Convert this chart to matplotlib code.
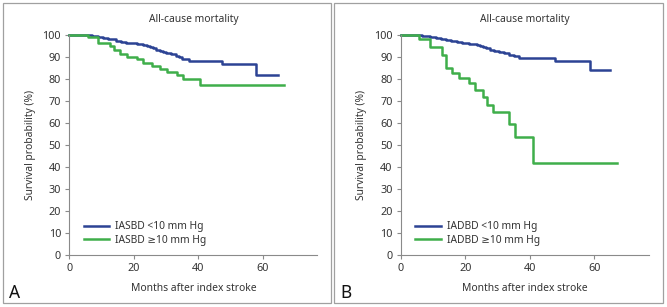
import matplotlib.pyplot as plt
from matplotlib.patches import Rectangle

plt.rcParams['font.family'] = ['Noto Sans', 'DejaVu Sans']

# panel A: IASBD
a_low_t = [0, 7, 9, 10.5, 12, 13, 14.5, 16, 17.5, 19, 21, 23, 24, 25, 26, 27, 28, 29,
           30, 31.5, 33, 34, 35, 37, 47.4, 58, 64.6]
a_low_s = [100, 99.6, 99.2, 98.8, 98.4, 98, 97.5, 97, 96.5, 96.2, 96, 95.6, 95.2, 94.6,
           94, 93.4, 92.9, 92.3, 91.7, 91.2, 90.6, 90, 89.3, 88.3, 86.6, 81.7, 81.7]
a_high_t = [0, 5.9, 9.0, 12.6, 13.7, 15.7, 17.8, 20.9, 23.0, 25.6, 28.2, 30.2, 33.3,
            35.4, 40.4, 66.5]
a_high_s = [100, 98.9, 96.5, 95, 93.2, 91.2, 89.8, 88.9, 87.4, 85.9, 84.4, 83.3, 81.8,
            80, 77.3, 77.3]

# panel B: IADBD
b_low_t = [0, 6.6, 9, 11, 12.3, 14, 15.5, 17.4, 19, 21, 23.5, 24.5, 25.5, 26.5, 27.7,
           29, 30.5, 31.9, 33.5, 35, 36.6, 47.9, 58.8, 65]
b_low_s = [100, 99.6, 99.2, 98.8, 98.4, 97.8, 97.2, 96.6, 96.3, 96, 95.5, 95, 94.5, 94,
           93.4, 92.7, 92.2, 91.6, 91, 90.4, 89.6, 88, 84.2, 84.2]
b_high_t = [0, 5.7, 9.0, 12.9, 13.9, 16.0, 18.1, 21.0, 23.0, 25.6, 26.7, 28.7, 33.6,
            35.5, 40.9, 67.2]
b_high_s = [100, 98.2, 94.6, 90.7, 84.8, 82.8, 80.5, 78, 75, 71.8, 68.3, 64.8, 59.6,
            53.8, 41.9, 41.9]

panels = [
    ("A", "IASBD", a_low_t, a_low_s, a_high_t, a_high_s),
    ("B", "IADBD", b_low_t, b_low_s, b_high_t, b_high_s),
]

blue = "#2c4394"
green = "#3fae4a"
txt = "#333333"
grey = "#8a8a8a"

fig = plt.figure(figsize=(6.67, 3.07), dpi=100)
lefts = [0.104, 0.601]

for left, (letter, name, lt, ls, ht, hs) in zip(lefts, panels):
    ax = fig.add_axes([left, 0.169, 0.372, 0.717])
    ax.step(lt, ls, where="post", color=blue, lw=1.8, label=f"{name} <10 mm Hg",
            clip_on=False)
    ax.step(ht, hs, where="post", color=green, lw=1.8, label=f"{name} \u226510 mm Hg",
            clip_on=False)
    ax.set_xlim(0, 77)
    ax.set_ylim(0, 100)
    ax.set_xticks([0, 20, 40, 60])
    ax.set_yticks(range(0, 101, 10))
    for s in ["top", "right"]:
        ax.spines[s].set_visible(False)
    for s in ["left", "bottom"]:
        ax.spines[s].set_color(grey)
        ax.spines[s].set_linewidth(0.8)
    ax.tick_params(colors=grey, labelcolor=txt, labelsize=7.8, length=3, width=0.8, pad=3)
    ax.set_title("All-cause mortality", fontsize=7.4, color=txt, pad=9)
    ax.set_xlabel("Months after index stroke", fontsize=7.4, color=txt, labelpad=6)
    ax.set_ylabel("Survival probability (%)", fontsize=7.4, color=txt, labelpad=5)
    ax.legend(loc="lower left", bbox_to_anchor=(0.02, 0.0), frameon=False, fontsize=7.4,
              handlelength=2.5, labelspacing=0.25, handletextpad=0.6, labelcolor=txt)

    x0 = left - 0.1
    fig.text(x0 + 0.009, 0.03, letter, fontsize=12.5, fontweight="bold", color="#111")
    fig.add_artist(Rectangle((x0, 0.013), 0.493, 0.978, transform=fig.transFigure,
                             fill=False, ec="#a0a0a0", lw=0.9))

fig.savefig("out.png", dpi=100)
